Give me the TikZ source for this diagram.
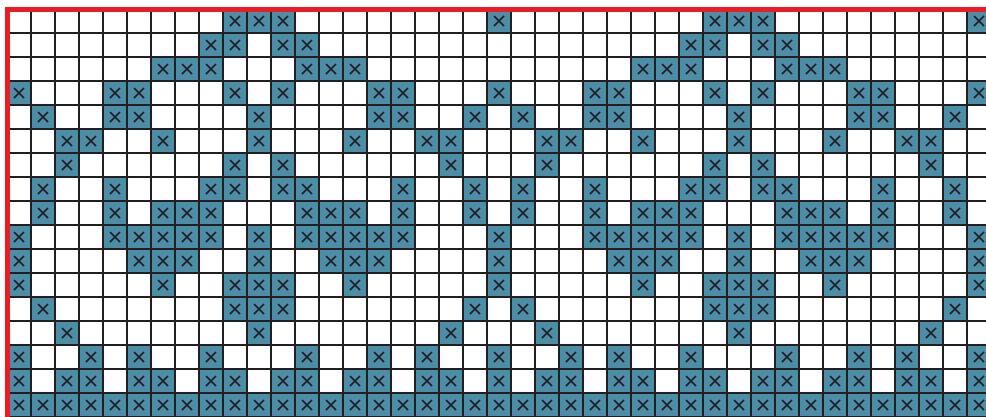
\documentclass[tikz,border=0pt]{standalone}
\definecolor{cellfill}{RGB}{76,142,168}
\definecolor{gridink}{RGB}{35,31,32}
\definecolor{framered}{RGB}{237,28,36}
\tikzset{
  cellbox/.style={fill=cellfill},
  crossmark/.style={draw=gridink, line width=1.5pt},
  gridrule/.style={draw=gridink, line width=2pt},
  framerule/.style={draw=framered, line width=5pt}
}
\newcommand{\mycell}[2]{%
  \fill[cellbox] ({7+24*#1}, {9+24*#2}) rectangle ++(24,24);
  \draw[crossmark] ({14+24*#1}, {16+24*#2}) -- ++(10,10);
  \draw[crossmark] ({24+24*#1}, {16+24*#2}) -- ++(-10,10);
}
\newcommand{\myrow}[2]{\foreach \c in {#2} {\mycell{\c}{#1}}}
\begin{document}
\begin{tikzpicture}[x=1pt,y=-1pt]
\useasboundingbox (0,0) rectangle (986,416);
\fill[white] (0,0) rectangle (986,416);
\begin{scope}
\clip (0,0) rectangle (986,416);
\myrow{0}{9,10,11,20,29,30,31,40}
\myrow{1}{8,9,11,12,28,29,31,32}
\myrow{2}{6,7,8,12,13,14,26,27,28,32,33,34}
\myrow{3}{0,4,5,9,11,15,16,20,24,25,29,31,35,36,40}
\myrow{4}{1,4,5,10,15,16,19,21,24,25,30,35,36,39}
\myrow{5}{2,3,6,10,14,17,18,22,23,26,30,34,37,38}
\myrow{6}{2,9,11,18,22,29,31,38}
\myrow{7}{1,4,8,9,11,12,16,19,21,24,28,29,31,32,36,39}
\myrow{8}{1,4,6,7,8,12,13,14,16,19,21,24,26,27,28,32,33,34,36,39}
\myrow{9}{0,4,5,6,7,8,10,12,13,14,15,16,20,24,25,26,27,28,30,32,33,34,35,36,40}
\myrow{10}{0,5,6,7,10,13,14,15,20,25,26,27,30,33,34,35,40}
\myrow{11}{0,6,9,10,11,14,20,26,29,30,31,34,40}
\myrow{12}{1,9,10,11,19,21,29,30,31,39}
\myrow{13}{2,10,18,22,30,38}
\myrow{14}{0,3,5,8,12,15,17,20,23,25,28,32,35,37,40}
\myrow{15}{0,2,3,5,6,8,9,11,12,14,15,17,18,20,22,23,25,26,28,29,31,32,34,35,37,38,40}
\myrow{16}{0,...,40}
\foreach \k in {0,...,41} {\draw[gridrule] ({7+24*\k}, 9) -- ({7+24*\k}, 417);}
\foreach \k in {0,...,17} {\draw[gridrule] (7, {9+24*\k}) -- (1000, {9+24*\k});}
\draw[framerule] (1100,9) -- (7,9) -- (7,419) -- (1100,419);
\end{scope}
\end{tikzpicture}
\end{document}
